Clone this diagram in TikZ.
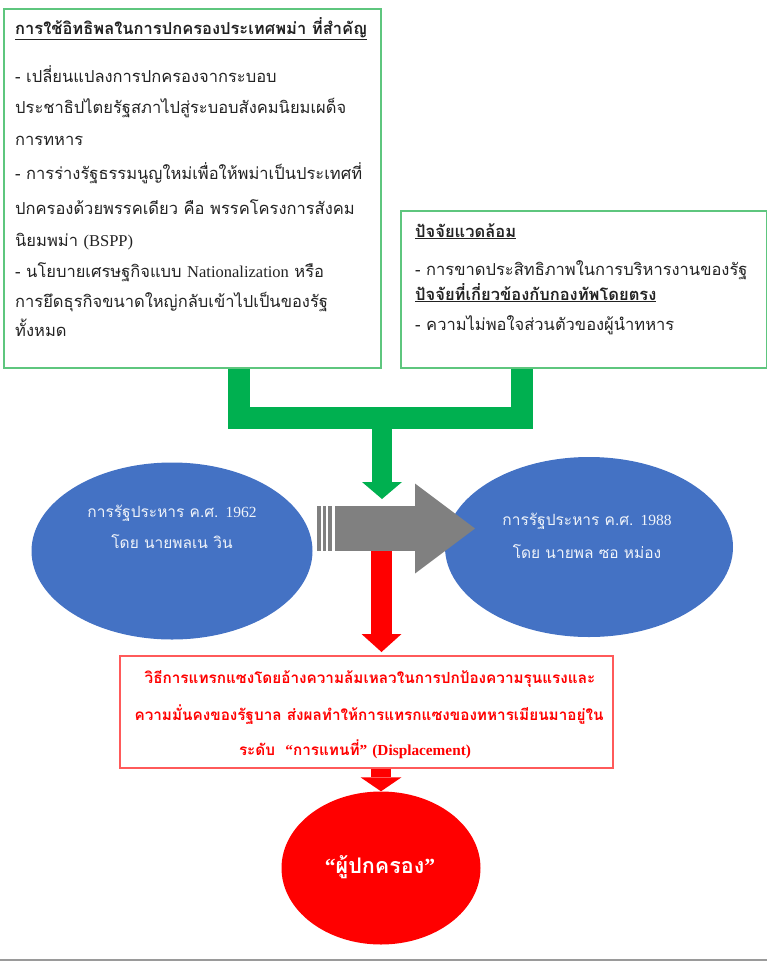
\documentclass[tikz,border=0pt]{standalone}
\usepackage{fontspec}
\setmainfont{Liberation Serif}
\newfontfamily\thaifont[Script=Thai]{Loma}
\usetikzlibrary{arrows.meta,shapes.geometric}
\newcommand{\lat}[1]{{\rmfamily #1}}
\definecolor{boxgreen}{HTML}{5EC67E}
\definecolor{bargreen}{HTML}{00B050}
\definecolor{ovalblue}{HTML}{4472C4}
\definecolor{arrowgray}{HTML}{808080}
\definecolor{textdark}{HTML}{222222}
\definecolor{boxred}{HTML}{FF5A5A}
\tikzset{
	greenbox/.style={draw=boxgreen, line width=1.5pt, anchor=north west, inner sep=0pt},
	line/.style={anchor=base west, inner sep=0pt, text=textdark, font=\thaifont\fontsize{16.5}{18}\selectfont},
	linehead/.style={line, font=\thaifont\bfseries\fontsize{16.5}{18}\selectfont},
	blueoval/.style={ellipse, fill=ovalblue, inner sep=0pt},
	ovaltext/.style={anchor=base, inner sep=0pt, text=white!92!ovalblue, font=\thaifont\fontsize{15.5}{16}\selectfont},
	redtext/.style={anchor=base, inner sep=0pt, text=red, font=\thaifont\bfseries\fontsize{15.3}{18}\selectfont},
	greenbar/.style={draw=bargreen, line width=22pt, line join=miter},
	blockarrow/.style={line width=#1pt},
}
\begin{document}
\begin{tikzpicture}[x=1pt, y=-1pt]
	\useasboundingbox (0,0) rectangle (767,962);
	
	% boxes at the top
	\node[greenbox, minimum width=377, minimum height=359] (influence) at (3,8) {};
	\node[greenbox, minimum width=366, minimum height=157] (factors) at (400,210) {};
	
	\node[linehead] (inf0) at (15,34) {\underline{การใช้อิทธิพลในการปกครองประเทศพม่า ที่สำคัญ}};
	\node[line] (inf1) at (15,82) {- เปลี่ยนแปลงการปกครองจากระบอบ};
	\node[line] (inf2) at (15,113) {ประชาธิปไตยรัฐสภาไปสู่ระบอบสังคมนิยมเผด็จ};
	\node[line] (inf3) at (15,145) {การทหาร};
	\node[line] (inf4) at (15,179) {- การร่างรัฐธรรมนูญใหม่เพื่อให้พม่าเป็นประเทศที่};
	\node[line] (inf5) at (15,214) {ปกครองด้วยพรรคเดียว คือ พรรคโครงการสังคม};
	\node[line] (inf6) at (15,246) {นิยมพม่า \lat{(BSPP)}};
	\node[line] (inf7) at (15,277) {- นโยบายเศรษฐกิจแบบ \lat{Nationalization} หรือ};
	\node[line] (inf8) at (15,307) {การยึดธุรกิจขนาดใหญ่กลับเข้าไปเป็นของรัฐ};
	\node[line] (inf9) at (15,336) {ทั้งหมด};
	
	\node[linehead] (fac0) at (415,237) {\underline{ปัจจัยแวดล้อม}};
	\node[line] (fac1) at (415,275) {- การขาดประสิทธิภาพในการบริหารงานของรัฐ};
	\node[linehead] (fac2) at (415,300) {\underline{ปัจจัยที่เกี่ยวข้องกับกองทัพโดยตรง}};
	\node[line] (fac3) at (415,330) {- ความไม่พอใจส่วนตัวของผู้นำทหาร};
	
	% green bracket
	\coordinate (join) at (382,417.5);
	\coordinate (greentip) at (382,499);
	\draw[greenbar] ([xshift=236]influence.south west) |- (join) -| ([xshift=122]factors.south west);
	\draw[draw=bargreen, blockarrow=20, -{Triangle[length=17pt, width=40pt, line width=0pt]}] (join) -- (greentip);
	
	% the two coups
	\node[blueoval, minimum width=281, minimum height=177] (coup62) at (172,551) {};
	\node[blueoval, minimum width=288, minimum height=180] (coup88) at (589,547) {};
	\node[ovaltext] (coup62a) at (172,517) {การรัฐประหาร ค.ศ. \lat{1962}};
	\node[ovaltext] (coup62b) at (172,548) {โดย นายพลเน วิน};
	\node[ovaltext] (coup88a) at (587,525) {การรัฐประหาร ค.ศ. \lat{1988}};
	\node[ovaltext] (coup88b) at (587,558) {โดย นายพล ซอ หม่อง};
	
	% result
	\node[draw=boxred, line width=1.5pt, anchor=north west, inner sep=0pt, minimum width=493, minimum height=112] (method) at (119,655) {};
	\node[redtext] (met1) at (370,683) {วิธีการแทรกแซงโดยอ้างความล้มเหลวในการปกป้องความรุนแรงและ};
	\node[redtext] (met2) at (369,720) {ความมั่นคงของรัฐบาล ส่งผลทำให้การแทรกแซงของทหารเมียนมาอยู่ใน};
	\node[redtext] (met3) at (355,755) {ระดับ \ \lat{“}การแทนที่\lat{”} \lat{(Displacement)}};
	
	\node[ellipse, fill=red, inner sep=0pt, minimum width=199, minimum height=153] (ruler) at (381,868) {};
	\node[anchor=base, inner sep=0pt, text=white, font=\thaifont\bfseries\fontsize{21.5}{24}\selectfont] (rulertext) at (380,873) {\lat{“}ผู้ปกครอง\lat{”}};
	
	% arrows
	\coordinate (grayfrom) at (335,528.5);
	\coordinate (graytip) at (475,528.5);
	\coordinate (redfrom) at (381.5,528.5);
	\coordinate (redtip) at (381.5,652);
	\draw[draw=red, blockarrow=21, -{Triangle[length=18pt, width=40pt, line width=0pt]}] (redfrom) -- (redtip);
	\draw[draw=arrowgray, blockarrow=45, -{Triangle[length=60pt, width=90pt, line width=0pt]}] (grayfrom) -- (graytip);
	\foreach \x in {317,322.5,328}
		\fill[arrowgray] (\x,506) rectangle ++(3.5,45);
	\draw[draw=red, blockarrow=20, -{Triangle[length=14pt, width=41pt, line width=0pt]}] (method.south -| ruler.north) -- (ruler.north);
	
	\draw[arrowgray!80, line width=2pt] (0,960) -- (767,960);
\end{tikzpicture}
\end{document}
